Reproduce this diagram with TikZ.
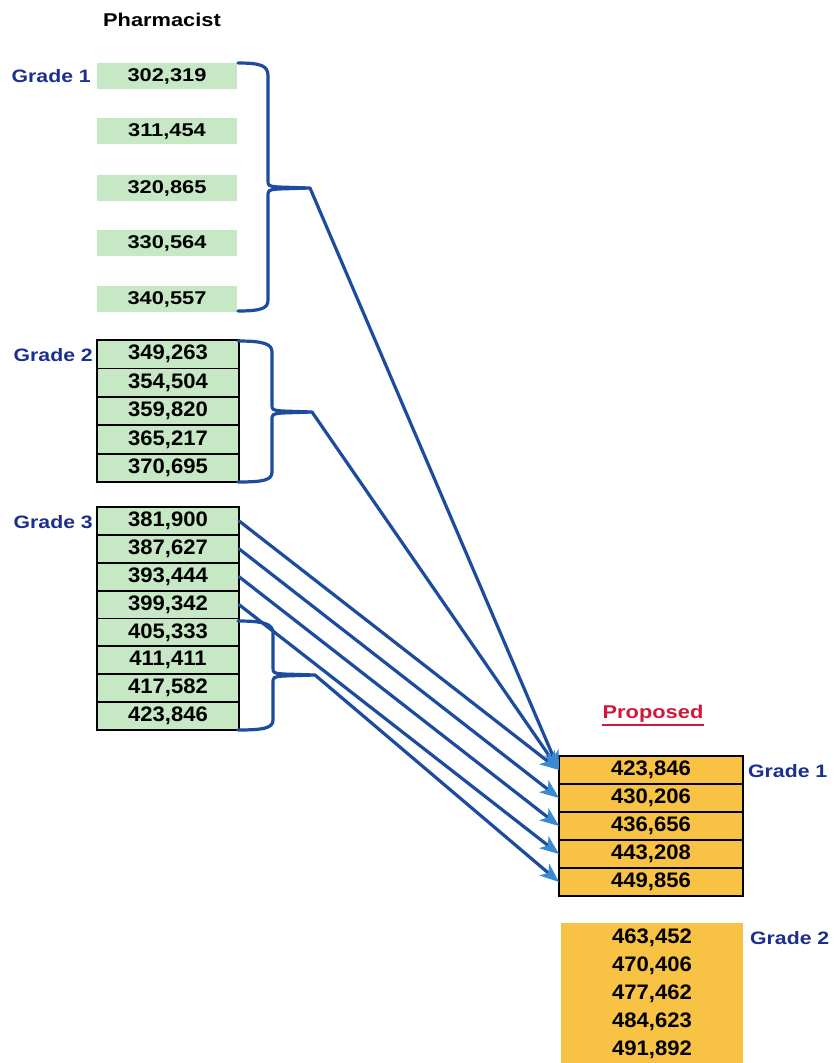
\documentclass[tikz,border=0pt]{standalone}
\usepackage{fontspec}
\setmainfont{Liberation Sans}
\newfontfamily\labf{Liberation Sans}[FakeStretch=1.18]
\newfontfamily\numf{Liberation Sans}[FakeStretch=1.05]
\usetikzlibrary{arrows.meta}
\definecolor{gradeblue}{HTML}{1A2F8F}
\definecolor{linkblue}{HTML}{1D4C9E}
\definecolor{tipblue}{HTML}{3A8AD0}
\definecolor{boxgreen}{HTML}{C6E8C4}
\definecolor{boxorange}{HTML}{F8C244}
\definecolor{propred}{HTML}{D0183A}
\tikzset{
  gradelbl/.style={font=\labf\fontsize{18}{20}\selectfont\bfseries, text=gradeblue, inner sep=0pt},
  gonebox/.style={fill=boxgreen, minimum width=140pt, minimum height=26pt, inner sep=0pt, outer sep=0pt,
    font=\labf\fontsize{18.5}{20}\selectfont\bfseries},
  rowbox/.style={fill=boxgreen, draw=black, line width=1.8pt, minimum width=142pt, inner sep=0pt, outer sep=0pt,
    font=\numf\fontsize{21}{22}\selectfont\bfseries},
  proprow/.style={fill=boxorange, draw=black, line width=1.8pt, minimum width=184pt, minimum height=28pt, inner sep=0pt, outer sep=0pt,
    font=\numf\fontsize{21}{22}\selectfont\bfseries},
  onum/.style={font=\numf\fontsize{21}{22}\selectfont\bfseries, inner sep=0pt},
  bracepath/.style={draw=linkblue, line width=3.2pt, line join=round, line cap=round},
  linkarrow/.style={draw=linkblue, line width=3.2pt, line cap=round, -{Stealth[length=19pt, width=15pt, inset=5pt, color=tipblue]}}
}
\begin{document}
\begin{tikzpicture}[x=1pt, y=-1pt]
\useasboundingbox (0,0) rectangle (833,1063);
\fill[white] (0,0) rectangle (833,1063);

% title
\node[font=\labf\fontsize{18.5}{20}\selectfont\bfseries, inner sep=0pt] (title) at (162,20) {Pharmacist};

% Grade 1 (current)
\node[gradelbl, anchor=east] (lg1) at (91,76) {Grade 1};
\foreach \v/\y [count=\i] in {302{,}319/76, 311{,}454/131, 320{,}865/188, 330{,}564/243, 340{,}557/299}
  \node[gonebox] (a\i) at (167,\y) {\v};

% Grade 2 (current)
\node[gradelbl, anchor=east] (lg2) at (93,355) {Grade 2};
\foreach \v/\y [count=\i] in {349{,}263/354.2, 354{,}504/382.6, 359{,}820/411, 365{,}217/439.4, 370{,}695/467.8}
  \node[rowbox, minimum height=28.4pt] (b\i) at (168,\y) {\v};

% Grade 3 (current)
\node[gradelbl, anchor=east] (lg3) at (93,522) {Grade 3};
\foreach \v/\y [count=\i] in {381{,}900/520.9, 387{,}627/548.8, 393{,}444/576.7, 399{,}342/604.6, 405{,}333/632.4, 411{,}411/660.3, 417{,}582/688.2, 423{,}846/716.1}
  \node[rowbox, minimum height=27.9pt] (c\i) at (168,\y) {\v};

% Proposed
\node[font=\labf\fontsize{18.5}{20}\selectfont\bfseries, text=propred, inner sep=0pt] (prop) at (653,714) {Proposed};
\draw[propred, line width=1.6pt] ([yshift=-2pt]prop.south west) -- ([yshift=-2pt]prop.south east);
\foreach \v/\y [count=\i] in {423{,}846/770, 430{,}206/798, 436{,}656/826, 443{,}208/854, 449{,}856/882}
  \node[proprow] (p\i) at (651,\y) {\v};
\node[gradelbl, anchor=west] (rg1) at (748,771) {Grade 1};

% Proposed Grade 2
\node[fill=boxorange, minimum width=182pt, minimum height=140pt, inner sep=0pt, outer sep=0pt, anchor=north west] (q) at (561,923) {};
\foreach \v/\y [count=\i] in {463{,}452/938, 470{,}406/966, 477{,}462/994, 484{,}623/1022, 491{,}892/1050}
  \node[onum] (q\i) at (652,\y) {\v};
\node[gradelbl, anchor=west] (rg2) at (750,938) {Grade 2};

% braces
\coordinate (t1) at (310,188);
\coordinate (t2) at (312,412);
\coordinate (t3) at (315,675);
\draw[bracepath] (238,63) .. controls (262,63) and (268,66) .. (268,76) -- (268,180)
  .. controls (268,186) .. (278,187) -- (t1) -- (278,189)
  .. controls (268,190) .. (268,197) -- (268,300) .. controls (268,308) and (262,311) .. (238,311);
\draw[bracepath] (238,341) .. controls (264,341) and (272,344) .. (272,352) -- (272,404)
  .. controls (272,410) .. (282,411) -- (t2) -- (282,413)
  .. controls (272,414) .. (272,421) -- (272,472) .. controls (272,480) and (264,482) .. (238,482);
\draw[bracepath] (238,621) .. controls (264,621) and (273,624) .. (273,633) -- (273,667)
  .. controls (273,673) .. (283,674) -- (t3) -- (283,676)
  .. controls (273,677) .. (273,684) -- (273,720) .. controls (273,728) and (264,730) .. (238,730);

% connectors
\draw[linkarrow] (t1) -- (p1.west);
\draw[linkarrow] (t2) -- (p1.west);
\draw[linkarrow] (c1.east) -- (p1.west);
\draw[linkarrow] (c2.east) -- (p2.west);
\draw[linkarrow] (c3.east) -- (p3.west);
\draw[linkarrow] (c4.east) -- (p4.west);
\draw[linkarrow] (t3) -- (p5.west);
\end{tikzpicture}
\end{document}
